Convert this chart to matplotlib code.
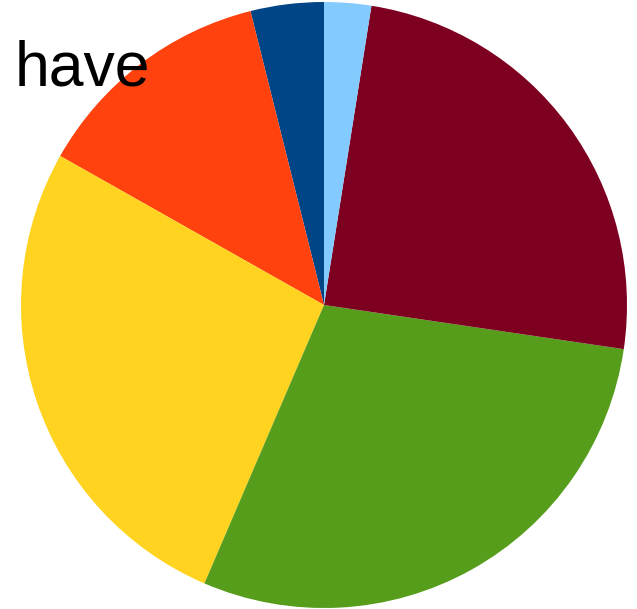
import matplotlib
matplotlib.use("Agg")
import matplotlib.pyplot as plt

# Slice shares (percent), drawn counterclockwise from 12 o'clock
labels = ["A", "B", "C", "D", "E", "F"]
values = [3.9, 12.9, 26.7, 29.1, 24.8, 2.5]
colors = ["#004586", "#ff420e", "#ffd320", "#579d1c", "#7e0021", "#83caff"]
title_text = "have"

W, H = 637, 609
cx, cy, r = 324, 305, 303  # pie centre and radius in pixels (from top-left)

fig = plt.figure(figsize=(W / 100, H / 100), dpi=100)
ax = fig.add_axes([0, 0, 1, 1])
ax.pie(values, colors=colors, startangle=90, counterclock=True,
       radius=1.0, wedgeprops=dict(linewidth=0, antialiased=True))
ax.set_xlim(-cx / r, (W - cx) / r)
ax.set_ylim(-(H - cy) / r, cy / r)
ax.set_aspect("equal")
ax.axis("off")

fig.text(15 / W, (H - 85) / H, title_text, fontsize=45,
         family=["Liberation Sans", "DejaVu Sans"], color="black",
         ha="left", va="baseline")

fig.savefig("out.png", dpi=100)
